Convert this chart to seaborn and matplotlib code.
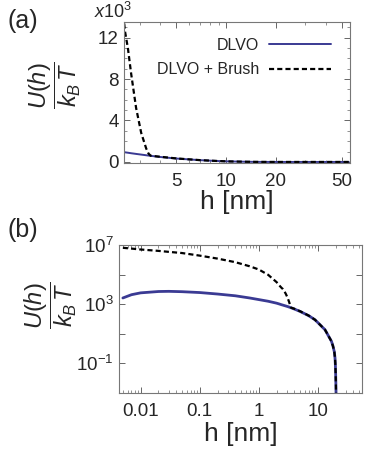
import numpy as np
import pandas as pd
import matplotlib
matplotlib.use("Agg")
import matplotlib.pyplot as plt
import matplotlib.ticker as mticker
import seaborn as sns

# separation h [nm] and interaction energies U/kT
h_nm = [0.005, 0.007, 0.01, 0.02, 0.03, 0.05, 0.1, 0.2, 0.4, 0.7, 1.0, 1.44,
        2.0, 2.2, 2.45, 2.55, 2.67, 2.86, 3.07, 3.29, 3.4, 3.5, 4.0, 5.0,
        7.0, 8.9, 10.0, 13.2, 15.0, 17.0, 18.0, 19.0, 19.5, 19.8, 20.0,
        20.2, 20.3, 21.0, 25.0, 30.0, 40.0, 55.0]
u_dlvo = [2700, 4500, 6000, 7400, 7600, 7200, 6300, 5000, 3800, 2700, 2100,
          1620, 1200, 1070, 930, 890, 840, 775, 710, 645, 615, 590, 480, 330,
          170, 91, 58, 19, 7.6, 3.1, 1.5, 0.6, 0.23, 0.07, 0.018,
          0.003, 0.0008, -0.3, -1.0, -1.2, -0.9, -0.5]
u_brush = [6.8e6, 6.0e6, 5.2e6, 4.2e6, 3.6e6, 3.0e6, 2.0e6, 1.26e6, 7.2e5,
           3.8e5, 2.3e5, 1.0e5, 3.2e4, 2.0e4, 12600, 11000, 8500, 5200, 2800,
           1300, 800, 600, 500, 340, 172, 91, 58, 19, 7.6, 3.1, 1.5, 0.6,
           0.23, 0.07, 0.018, 0.003, 0.0008, -0.3, -1.0, -1.2, -0.9, -0.5]

df = pd.DataFrame({"h": h_nm, "dlvo": u_dlvo, "brush": u_brush})

sns.set_style("ticks")
plt.rcParams["font.family"] = ["Liberation Sans", "DejaVu Sans"]
plt.rcParams["mathtext.fontset"] = "custom"
plt.rcParams["mathtext.rm"] = "Liberation Sans"
plt.rcParams["mathtext.it"] = "Liberation Sans:italic"
plt.rcParams["mathtext.bf"] = "Liberation Sans:bold"

blue = "#3a3a93"
dash = (0, (2.3, 1.4))
ylab = r"$\dfrac{U(h)}{k_B\,T}$"
tick_fs = 13.5

fig = plt.figure(figsize=(3.65, 4.49), dpi=100)
ax_a = fig.add_axes([0.340, 0.637, 0.619, 0.314])
ax_b = fig.add_axes([0.326, 0.125, 0.666, 0.330])

# ---- (a) linear energy, log distance
sns.lineplot(data=df, x="h", y="dlvo", ax=ax_a, color=blue, lw=1.4, label="DLVO")
sns.lineplot(data=df, x="h", y="brush", ax=ax_a, color="black", lw=1.6,
             linestyle=dash, label="DLVO + Brush")
ax_a.set_xscale("log")
ax_a.set_xlim(2.42, 56)
ax_a.set_ylim(-100, 13500)
ax_a.set_xticks([5, 10, 20, 50])
ax_a.set_xticklabels(["5", "10", "20", "50"])
ax_a.xaxis.set_minor_locator(mticker.LogLocator(base=10, subs=np.arange(2, 10)))
ax_a.xaxis.set_minor_formatter(mticker.NullFormatter())
ax_a.set_yticks([0, 4000, 8000, 12000])
ax_a.set_yticklabels(["0", "4", "8", "12"])
ax_a.yaxis.set_minor_locator(mticker.MultipleLocator(1000))
ax_a.text(-0.05, 1.0, r"$x$10$^3$", transform=ax_a.transAxes, ha="center",
          va="bottom", fontsize=13)
ax_a.legend(loc="upper right", bbox_to_anchor=(0.915, 0.89), frameon=False,
            markerfirst=False, fontsize=11.5, handlelength=3.9,
            handletextpad=0.6, labelspacing=0.6, borderpad=0,
            borderaxespad=0)
ax_a.set_xlabel("h [nm]", fontsize=19, labelpad=0)
ax_a.set_ylabel(ylab, fontsize=17)
ax_a.yaxis.set_label_coords(-0.18, 0.55)

# ---- (b) log-log
sns.lineplot(data=df[df["dlvo"] > 0], x="h", y="dlvo", ax=ax_b, color=blue, lw=2.0)
sns.lineplot(data=df[df["brush"] > 0], x="h", y="brush", ax=ax_b, color="black",
             lw=1.6, linestyle=dash)
ax_b.set_xscale("log")
ax_b.set_yscale("log")
ax_b.set_xlim(0.0043, 56)
ax_b.set_ylim(1e-3, 1.1e7)
ax_b.set_xticks([0.01, 0.1, 1, 10])
ax_b.set_xticklabels(["0.01", "0.1", "1", "10"])
ax_b.xaxis.set_minor_locator(mticker.LogLocator(base=10, subs=np.arange(2, 10)))
ax_b.xaxis.set_minor_formatter(mticker.NullFormatter())
ax_b.set_yticks([1e-1, 1e1, 1e3, 1e5, 1e7])
ax_b.set_yticklabels([r"$10^{-1}$", "", r"$10^{3}$", "", r"$10^{7}$"])
ax_b.yaxis.set_minor_locator(mticker.NullLocator())
ax_b.set_xlabel("h [nm]", fontsize=19, labelpad=2)
ax_b.set_ylabel(ylab, fontsize=17)
ax_b.yaxis.set_label_coords(-0.165, 0.59)

for ax in (ax_a, ax_b):
    ax.tick_params(which="both", direction="in", top=True, right=True,
                   labelsize=tick_fs, color="#666666")
    ax.tick_params(axis="x", which="both", pad=7)
    ax.tick_params(axis="y", which="both", pad=4)
    ax.tick_params(which="major", length=4, width=0.7)
    ax.tick_params(which="minor", length=2, width=0.5)
    for sp in ax.spines.values():
        sp.set_color("#777777")
        sp.set_linewidth(0.8)

fig.text(0.02, 0.953, "(a)", fontsize=18, va="center", ha="left")
fig.text(0.02, 0.487, "(b)", fontsize=18, va="center", ha="left")

fig.savefig("out.png", dpi=100)
